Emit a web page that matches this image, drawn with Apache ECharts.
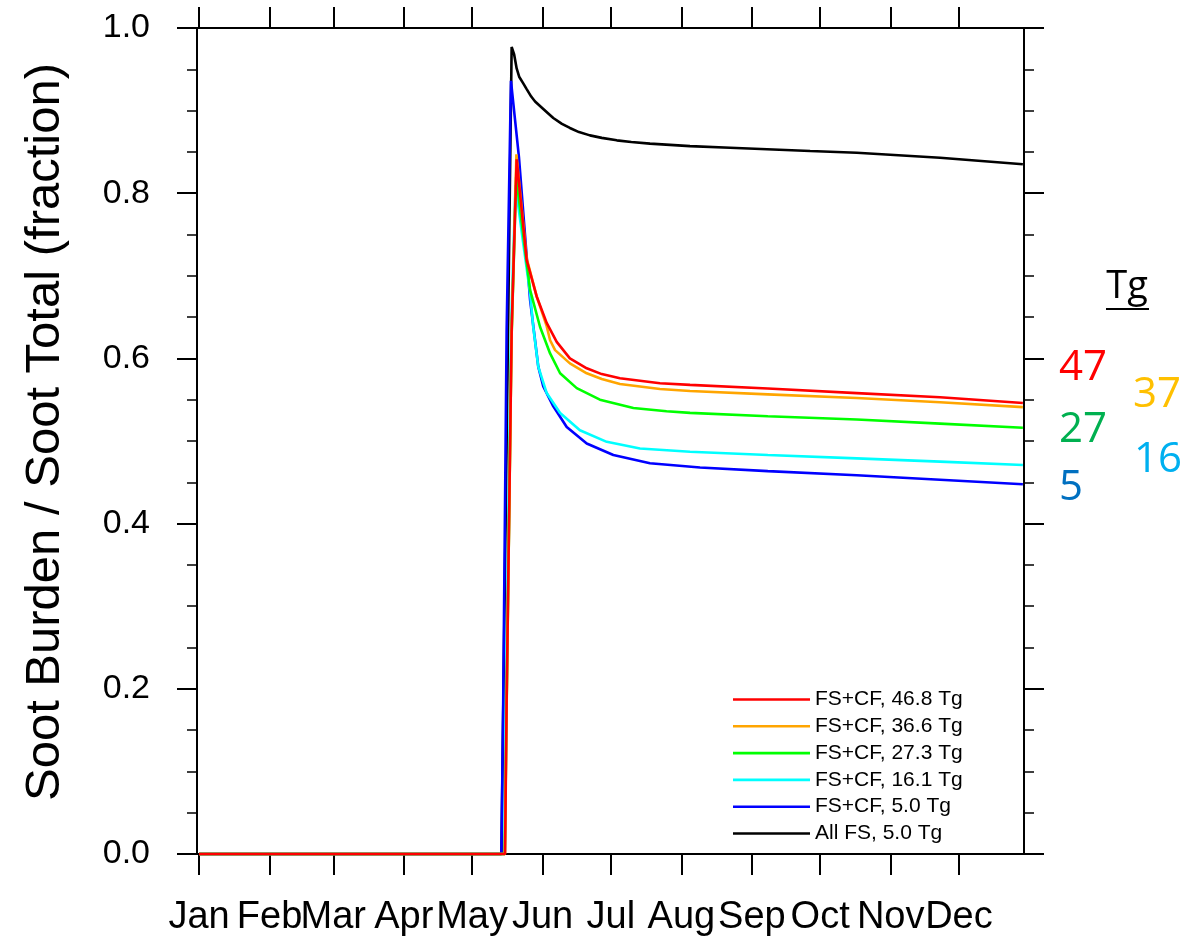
<!DOCTYPE html>
<html>
<head>
<meta charset="utf-8">
<script src="https://cdn.jsdelivr.net/npm/echarts@6/dist/echarts.min.js"></script>
<style>
  html, body { margin: 0; padding: 0; background: #fff; }
  #chart { width: 1198px; height: 939px; }
</style>
</head>
<body>
<div id="chart"></div>
<script>
// Month boundaries (day of year, Jan 1 = 0) and their labels
const monthStarts = [0, 31, 59, 90, 120, 151, 181, 212, 243, 273, 304, 334];
const monthLabels = ['Jan', 'Feb', 'Mar', 'Apr', 'May', 'Jun', 'Jul', 'Aug', 'Sep', 'Oct', 'Nov', 'Dec'];

// Soot burden fraction, [day, fraction]
const fscf468 = [
  [0, 0], [134.5, 0], [135.2, 0.186], [137.4, 0.634], [139.6, 0.841],
  [144.0, 0.719], [148.4, 0.675], [152.8, 0.643], [157.2, 0.620], [163.0, 0.600],
  [170.4, 0.588], [177.0, 0.581], [185.0, 0.576], [202.6, 0.570], [215.8, 0.568],
  [250.0, 0.5635], [289.1, 0.558], [325.7, 0.553], [362.1, 0.546]
];
const fscf366 = [
  [0, 0], [134.4, 0], [135.2, 0.185], [137.4, 0.630], [139.5, 0.847],
  [144.0, 0.721], [148.4, 0.675], [152.8, 0.639], [154.3, 0.622], [156.5, 0.610],
  [163.0, 0.594], [170.4, 0.582], [177.0, 0.575], [185.0, 0.569], [202.6, 0.563],
  [215.8, 0.5605], [250.0, 0.5565], [289.1, 0.552], [325.7, 0.547], [362.1, 0.541]
];
const fscf273 = [
  [0, 0], [134.4, 0], [135.2, 0.180], [137.3, 0.620], [139.4, 0.820],
  [143.3, 0.731], [145.5, 0.683], [149.9, 0.638], [154.3, 0.606], [158.7, 0.582],
  [166.0, 0.564], [176.2, 0.550], [190.9, 0.540], [205.5, 0.536], [215.8, 0.534],
  [250.0, 0.530], [289.1, 0.526], [325.7, 0.521], [362.1, 0.516]
];
const fscf161 = [
  [0, 0], [134.2, 0], [134.9, 0.190], [137.1, 0.634], [139.1, 0.810],
  [142.5, 0.739], [145.5, 0.679], [146.9, 0.638], [149.1, 0.590], [152.8, 0.558],
  [158.7, 0.534], [167.4, 0.513], [179.2, 0.499], [193.8, 0.491], [215.8, 0.487],
  [250.0, 0.483], [289.1, 0.479], [325.7, 0.475], [362.1, 0.471]
];
const fscf50 = [
  [0, 0], [132.9, 0], [133.7, 0.186], [135.2, 0.634], [137.1, 0.936],
  [140.6, 0.844], [145.5, 0.671], [149.1, 0.590], [151.3, 0.566], [155.7, 0.542],
  [161.6, 0.517], [170.4, 0.497], [182.1, 0.483], [198.2, 0.473], [220.2, 0.468],
  [250.0, 0.4635], [289.1, 0.4585], [325.7, 0.453], [362.1, 0.4476]
];
const allfs50 = [
  [0, 0], [132.9, 0], [137.4, 0.977], [138.5, 0.968], [139.6, 0.951],
  [140.7, 0.941], [142.5, 0.933], [144.0, 0.926], [146.0, 0.917], [147.7, 0.911],
  [151.3, 0.902], [155.7, 0.891], [159.5, 0.884], [163.0, 0.879], [167.0, 0.874],
  [171.8, 0.870], [177.0, 0.867], [183.6, 0.864], [190.0, 0.862], [198.2, 0.860],
  [215.8, 0.857], [233.4, 0.855], [268.6, 0.851], [289.1, 0.849], [325.7, 0.843],
  [362.1, 0.835]
];

// Side annotation: totals in Tg
const tgLabels = ['47', '37', '27', '16', '5'];
const tgColors = ['#FF0000', '#FFC000', '#00B050', '#00B0F0', '#0070C0'];

const seriesDefs = [
  // drawn bottom to top
  { name: 'All FS, 5.0 Tg', data: allfs50, color: '#000000' },
  { name: 'FS+CF, 5.0 Tg', data: fscf50, color: '#0000FF' },
  { name: 'FS+CF, 16.1 Tg', data: fscf161, color: '#00FFFF' },
  { name: 'FS+CF, 27.3 Tg', data: fscf273, color: '#00FF00' },
  { name: 'FS+CF, 36.6 Tg', data: fscf366, color: '#FFA500' },
  { name: 'FS+CF, 46.8 Tg', data: fscf468, color: '#FF0000' }
];
const legendOrder = ['FS+CF, 46.8 Tg', 'FS+CF, 36.6 Tg', 'FS+CF, 27.3 Tg',
                     'FS+CF, 16.1 Tg', 'FS+CF, 5.0 Tg', 'All FS, 5.0 Tg'];

const FONT = 'Liberation Sans, Helvetica, Arial, sans-serif';
const axisLineStyle = { color: '#000', width: 2 };

function monthAxis(position, showLabels) {
  return {
    type: 'value',
    position: position,
    min: -0.9,
    max: 362.6,
    axisLine: { show: true, onZero: false, lineStyle: axisLineStyle },
    axisTick: { show: true, inside: false, length: 21, customValues: monthStarts,
                lineStyle: { color: '#000', width: 2 } },
    axisLabel: {
      show: showLabels,
      customValues: monthStarts,
      formatter: function (v) { return monthLabels[monthStarts.indexOf(v)]; },
      color: '#000', fontFamily: FONT, fontSize: 38, margin: 45
    },
    splitLine: { show: false }
  };
}

function fractionAxis(position, showLabels) {
  return {
    type: 'value',
    position: position,
    min: 0,
    max: 1,
    interval: 0.2,
    axisLine: { show: true, onZero: false, lineStyle: axisLineStyle },
    axisTick: { show: true, inside: false, length: 20, lineStyle: { color: '#000', width: 2 } },
    minorTick: { show: true, splitNumber: 4, length: 10, lineStyle: { color: '#000', width: 1.5 } },
    axisLabel: {
      show: showLabels,
      formatter: function (v) { return v.toFixed(1); },
      color: '#000', fontFamily: FONT, fontSize: 34, margin: 47
    },
    splitLine: { show: false },
    minorSplitLine: { show: false }
  };
}

const yMain = fractionAxis('left', true);
yMain.name = 'Soot Burden / Soot Total (fraction)';
yMain.nameLocation = 'middle';
yMain.nameGap = 127;
yMain.nameTextStyle = { color: '#000', fontFamily: FONT, fontSize: 49, padding: [0, 0, 0, 18] };

const graphics = [
  { type: 'text', x: 1127, y: 287,
    style: { text: 'Tg', fill: '#000', font: '38px "Open Sans"', align: 'center', verticalAlign: 'middle' } },
  { type: 'line', shape: { x1: 1106, y1: 309, x2: 1149, y2: 309 },
    style: { stroke: '#000', lineWidth: 2 } }
];
const tgPos = [[1083, 368], [1157, 395], [1083, 430], [1158, 460], [1071, 488]];
tgLabels.forEach(function (t, i) {
  graphics.push({
    type: 'text', x: tgPos[i][0], y: tgPos[i][1],
    style: { text: t, fill: tgColors[i], font: '42px "Open Sans"', align: 'center', verticalAlign: 'middle' }
  });
});

const chart = echarts.init(document.getElementById('chart'), null, { renderer: 'canvas' });
chart.setOption({
  animation: false,
  backgroundColor: '#fff',
  grid: { left: 197, right: 174, top: 28, bottom: 85, containLabel: false },
  xAxis: [monthAxis('bottom', true), monthAxis('top', false)],
  yAxis: [yMain, fractionAxis('right', false)],
  legend: {
    data: legendOrder,
    orient: 'vertical',
    left: 733,
    top: 689,
    padding: 0,
    icon: 'rect',
    itemWidth: 77,
    itemHeight: 2.6,
    itemGap: 5.8,
    selectedMode: false,
    textStyle: { color: '#000', fontFamily: FONT, fontSize: 21, lineHeight: 20 }
  },
  graphic: graphics,
  series: seriesDefs.map(function (s) {
    return {
      name: s.name,
      type: 'line',
      xAxisIndex: 0,
      yAxisIndex: 0,
      data: s.data,
      symbol: 'none',
      showSymbol: false,
      clip: false,
      color: s.color,
      lineStyle: { color: s.color, width: 2.6 }
    };
  })
});
</script>
</body>
</html>
